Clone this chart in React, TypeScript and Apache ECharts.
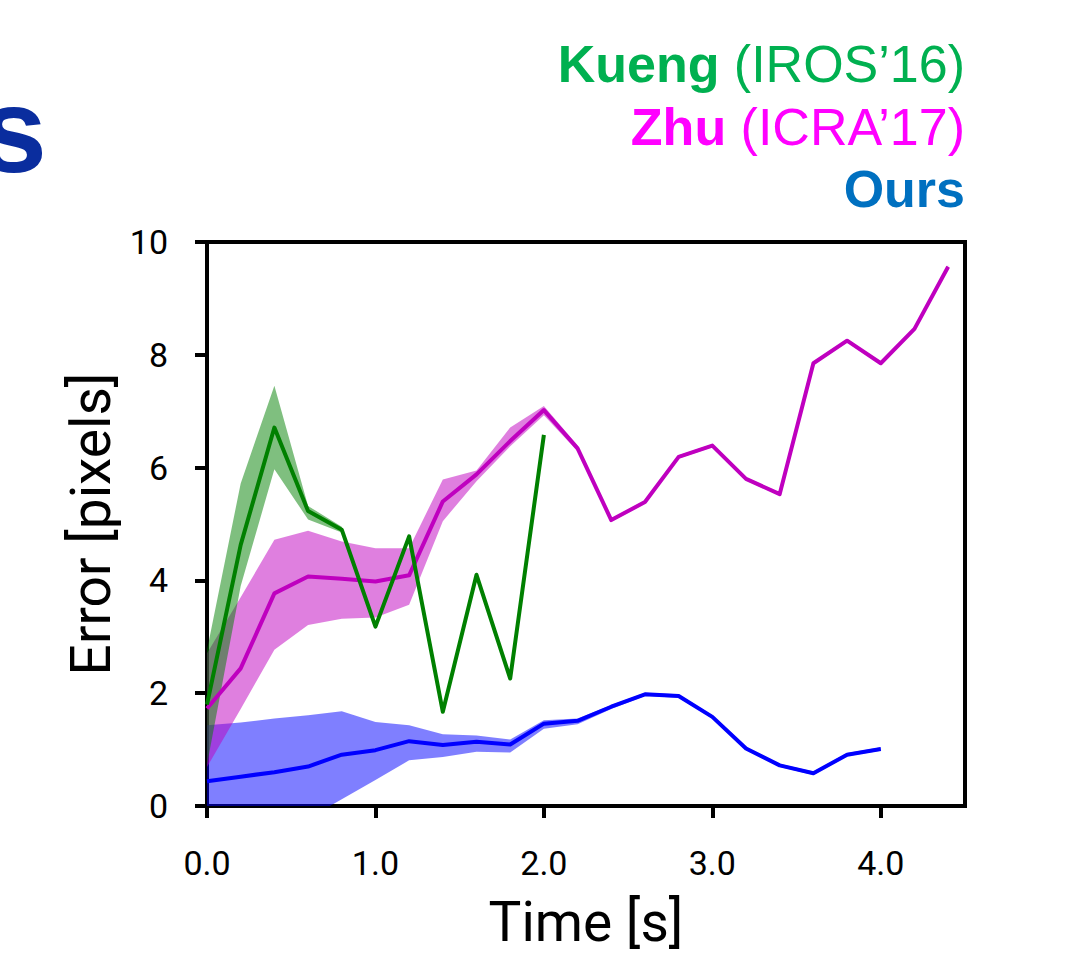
import React, { useEffect, useRef } from "react";
import * as echarts from "echarts";

// ---- data ----
const zhuTime = [0, 0.2, 0.4, 0.6, 0.8, 1.0, 1.2, 1.4, 1.6, 1.8, 2.0, 2.2, 2.4, 2.6, 2.8, 3.0, 3.2, 3.4, 3.6, 3.8, 4.0, 4.2, 4.4];
const zhuMean = [1.73, 2.44, 3.77, 4.07, 4.03, 3.98, 4.09, 5.4, 5.88, 6.47, 7.02, 6.34, 5.07, 5.39, 6.19, 6.39, 5.8, 5.53, 7.85, 8.25, 7.85, 8.46, 9.56];
const zhuUpper = [2.71, 3.7, 4.72, 4.88, 4.69, 4.57, 4.57, 5.79, 5.95, 6.71, 7.09, 6.39, 5.1, 5.42, 6.22, 6.42, 5.83, 5.56, 7.88, 8.28, 7.88, 8.49, 9.59];
const zhuLower = [0.69, 1.72, 2.77, 3.21, 3.32, 3.34, 3.57, 5.05, 5.76, 6.38, 6.93, 6.29, 5.04, 5.36, 6.16, 6.36, 5.77, 5.5, 7.82, 8.22, 7.82, 8.43, 9.53];

const kuengTime = [0, 0.2, 0.4, 0.6, 0.8, 1.0, 1.2, 1.4, 1.6, 1.8, 2.0];
const kuengMean = [1.8, 4.63, 6.71, 5.23, 4.9, 3.18, 4.78, 1.67, 4.1, 2.26, 6.58];
const kuengUpper = [2.76, 5.72, 7.45, 5.32, 4.95, 3.18, 4.78, 1.67, 4.1, 2.26, 6.58];
const kuengLower = [0.73, 3.9, 5.97, 5.08, 4.85, 3.18, 4.78, 1.67, 4.1, 2.26, 6.58];

const oursTime = [0, 0.2, 0.4, 0.6, 0.8, 1.0, 1.2, 1.4, 1.6, 1.8, 2.0, 2.2, 2.4, 2.6, 2.8, 3.0, 3.2, 3.4, 3.6, 3.8, 4.0];
const oursMean = [0.44, 0.52, 0.6, 0.7, 0.91, 0.99, 1.15, 1.08, 1.14, 1.09, 1.46, 1.51, 1.76, 1.98, 1.95, 1.58, 1.02, 0.72, 0.58, 0.91, 1.01];
const oursUpper = [1.43, 1.48, 1.55, 1.61, 1.68, 1.49, 1.43, 1.27, 1.25, 1.18, 1.52, 1.55, 1.79, 2.01, 1.98, 1.61, 1.05, 0.75, 0.61, 0.94, 1.04];
const oursLower = [-1.26, -0.91, -0.57, -0.22, 0.12, 0.46, 0.81, 0.87, 0.96, 0.95, 1.37, 1.45, 1.72, 1.95, 1.92, 1.55, 0.99, 0.69, 0.55, 0.88, 0.98];

const xTicks = [0, 1, 2, 3, 4];
const yTicks = [0, 2, 4, 6, 8, 10];

const legendLines = [
  { bold: "Kueng", rest: " (IROS\u201916)", color: "#00b050" },
  { bold: "Zhu", rest: " (ICRA\u201917)", color: "#ff00ff" },
  { bold: "Ours", rest: "", color: "#0070c0" },
];

const AX_FONT = "Roboto";

function bandSeries(time: number[], upper: number[], lower: number[], fill: string, z: number) {
  return {
    type: "custom",
    clip: true,
    z,
    silent: true,
    data: [[time[0], upper[0]]],
    renderItem: (_params: any, api: any) => {
      const pts: number[][] = [];
      for (let i = 0; i < time.length; i++) pts.push(api.coord([time[i], upper[i]]));
      for (let i = time.length - 1; i >= 0; i--) pts.push(api.coord([time[i], lower[i]]));
      return {
        type: "polygon",
        shape: { points: pts },
        style: { fill, stroke: "none" },
      };
    },
  };
}

function lineSeries(time: number[], mean: number[], color: string, z: number) {
  return {
    type: "line",
    z,
    data: time.map((t, i) => [t, mean[i]]),
    showSymbol: false,
    symbol: "none",
    lineStyle: { color, width: 4, join: "round" },
    clip: true,
  };
}

export default function App() {
  const ref = useRef<HTMLDivElement>(null);
  useEffect(() => {
    if (!ref.current) return;
    const chart = echarts.init(ref.current, undefined, { renderer: "svg" });
    const graphics: any[] = [
      {
        type: "text",
        x: 47,
        y: 130,
        style: {
          text: "s",
          font: 'bold 120px "Liberation Sans", Arial, sans-serif',
          fill: "#0a2d9e",
          align: "right",
          textAlign: "right",
          verticalAlign: "middle",
          textVerticalAlign: "middle",
        },
      },
    ];
    legendLines.forEach((l, i) => {
      graphics.push({
        type: "text",
        x: 965,
        y: 64 + i * 62.5,
        style: {
          text: l.rest ? `{b|${l.bold}}{r|${l.rest}}` : `{b|${l.bold}}`,
          rich: {
            b: { fontWeight: "bold", fontSize: 52, fontFamily: '"Liberation Sans", Arial', fill: l.color, color: l.color },
            r: { fontWeight: "normal", fontSize: 52, fontFamily: '"Liberation Sans", Arial', fill: l.color, color: l.color },
          },
          fill: l.color,
          fontSize: 52,
          fontFamily: '"Liberation Sans", Arial',
          align: "right",
          textAlign: "right",
          verticalAlign: "middle",
          textVerticalAlign: "middle",
        },
      });
    });

    chart.setOption({
      animation: false,
      backgroundColor: "#ffffff",
      grid: {
        left: 207,
        right: 104,
        top: 242,
        bottom: 148,
        show: true,
        borderColor: "#000",
        borderWidth: 4,
        backgroundColor: "transparent",
      },
      xAxis: {
        type: "value",
        min: 0,
        max: 4.5,
        interval: 1,
        axisLine: { show: true, onZero: false, lineStyle: { color: "#000", width: 4 } },
        axisTick: { show: true, length: 12, lineStyle: { color: "#000", width: 4 }, customValues: xTicks },
        axisLabel: {
          customValues: xTicks,
          formatter: (v: number) => v.toFixed(1),
          fontSize: 34,
          fontFamily: AX_FONT,
          color: "#000",
          margin: 40,
        },
        splitLine: { show: false },
        name: "Time [s]",
        nameLocation: "middle",
        nameGap: 88,
        nameTextStyle: { fontSize: 55, fontFamily: AX_FONT, color: "#000" },
      },
      yAxis: {
        type: "value",
        min: 0,
        max: 10,
        interval: 2,
        axisLine: { show: true, onZero: false, lineStyle: { color: "#000", width: 4 } },
        axisTick: { show: true, length: 12, lineStyle: { color: "#000", width: 4 }, customValues: yTicks },
        axisLabel: {
          customValues: yTicks,
          fontSize: 34,
          fontFamily: AX_FONT,
          color: "#000",
          margin: 39,
        },
        splitLine: { show: false },
        name: "Error [pixels]",
        nameLocation: "middle",
        nameGap: 88,
        nameTextStyle: { fontSize: 55, fontFamily: AX_FONT, color: "#000" },
      },
      graphic: graphics,
      series: [
        bandSeries(oursTime, oursUpper, oursLower, "rgba(0,0,255,0.5)", 1),
        bandSeries(zhuTime, zhuUpper, zhuLower, "rgba(191,0,191,0.5)", 2),
        bandSeries(kuengTime, kuengUpper, kuengLower, "rgba(0,128,0,0.5)", 3),
        lineSeries(oursTime, oursMean, "#0000ff", 4),
        lineSeries(zhuTime, zhuMean, "#bf00bf", 5),
        lineSeries(kuengTime, kuengMean, "#008000", 6),
      ],
    });
    return () => chart.dispose();
  }, []);
  return (
    <div
      ref={ref}
      style={{ position: "absolute", left: 0, top: 0, width: 1069, height: 954 }}
    />
  );
}
